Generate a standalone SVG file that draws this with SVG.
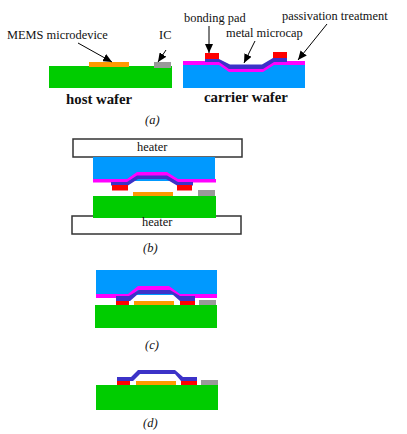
<svg xmlns="http://www.w3.org/2000/svg" width="407" height="434" viewBox="0 0 407 434">
<style>
text{font-family:"Liberation Serif","Times New Roman",serif;fill:#111}
.l{font-size:12.400px}
.b{font-size:14.800px;font-weight:bold}
.c{font-size:12.500px;font-style:italic}
.g{fill:#00cc00}.o{fill:#ff9900}.i{fill:#999999}.w{fill:#0099ff}.m{fill:#ff00ff}.k{fill:#3c32c8}.r{fill:#ff0000}
.h{fill:#fff;stroke:#333;stroke-width:1.5}
.a{fill:none;stroke:#000;stroke-width:1;marker-end:url(#ah)}
</style>
<defs><marker id="ah" markerUnits="userSpaceOnUse" markerWidth="10" markerHeight="8" refX="9" refY="4" orient="auto"><path d="M0 0L9 4L0 8Z" fill="#000"/></marker></defs>
<rect width="407" height="434" fill="#fff"/>
<g id="host-wafer-a">
<rect class="g" x="49" y="66" width="123" height="22"/>
<rect class="o" x="89" y="62" width="40" height="5"/>
<rect class="i" x="154" y="62" width="17" height="6"/>
<text class="l" x="7" y="39">MEMS microdevice</text>
<text class="l" x="159" y="39">IC</text>
<text class="b" x="66" y="104">host wafer</text>
<text class="c" x="145" y="124">(a)</text>
</g>
<g id="carrier-wafer-a">
<rect class="w" x="183" y="65" width="122" height="23"/>
<path class="m" d="M183 61H220L230 65H262L273 61H305V65H274L263 72H229L219 65H183Z"/>
<path class="k" d="M205 59H219L230 64.500H262L273 58H287V62H274L263 69H229L219 62H205Z"/>
<rect class="r" x="205" y="53" width="14" height="6"/>
<rect class="r" x="273" y="52" width="14" height="6"/>
<text class="l" x="184" y="22">bonding pad</text>
<text class="l" x="226" y="37">metal microcap</text>
<text class="l" x="282" y="20">passivation treatment</text>
<text class="b" x="204" y="102">carrier wafer</text>
</g>
<g id="stack-b">
<rect class="h" x="73" y="139" width="169" height="18"/>
<text class="l" x="137" y="151">heater</text>
<rect class="h" x="72" y="216" width="169" height="18"/>
<rect class="w" x="93" y="157" width="122" height="24"/>
<path class="m" d="M93 179H127L137 172H167L178 179H216V182.500H178L167 176H137L127 182.500H93Z"/>
<path class="k" d="M111 182H127L137 175.500H167L178 182H193V185.500H177L166 179H138L128 185.500H111Z"/>
<rect class="r" x="112" y="185" width="16" height="5.500"/>
<rect class="r" x="177" y="185" width="15" height="5.500"/>
<rect class="o" x="133" y="192" width="40" height="5"/>
<rect class="i" x="198" y="190" width="17" height="6"/>
<rect class="g" x="93" y="196" width="123" height="22"/>
<text class="l" x="142" y="226">heater</text>
<text class="c" x="143" y="252">(b)</text>
</g>
<g id="stack-c">
<rect class="w" x="96" y="270" width="121" height="25"/>
<path class="m" d="M96 294H128L138 286H169L180 294H217V298H180L169 290H138L129 298H96Z"/>
<path class="k" d="M116 296H129L139 290H170L180 296H195V301H180L172 294H138L130 301H116Z"/>
<rect class="r" x="116" y="301" width="13" height="5"/>
<rect class="r" x="180" y="301" width="15" height="5"/>
<rect class="o" x="134" y="301" width="40" height="5"/>
<rect class="i" x="199" y="300" width="17" height="6"/>
<rect class="g" x="95" y="305" width="122" height="23"/>
<text class="c" x="145" y="349">(c)</text>
</g>
<g id="stack-d">
<path class="k" d="M117 377H131L138 370H175L183 377H197V381H181L175 374H140L133 381H117Z"/>
<rect class="r" x="117" y="381" width="13" height="5"/>
<rect class="r" x="181" y="381" width="16" height="5"/>
<rect class="o" x="136" y="381" width="40" height="5"/>
<rect class="i" x="201" y="380" width="17" height="6"/>
<rect class="g" x="96" y="385" width="122" height="25"/>
<text class="c" x="143" y="427">(d)</text>
</g>
<g id="connectors">
<line class="a" x1="78" y1="43" x2="112" y2="62"/>
<line class="a" x1="166" y1="50" x2="158" y2="62"/>
<line class="a" x1="209" y1="26" x2="209" y2="53"/>
<line class="a" x1="255" y1="41" x2="244" y2="63"/>
<line class="a" x1="327" y1="24" x2="298" y2="60"/>
</g>
</svg>
